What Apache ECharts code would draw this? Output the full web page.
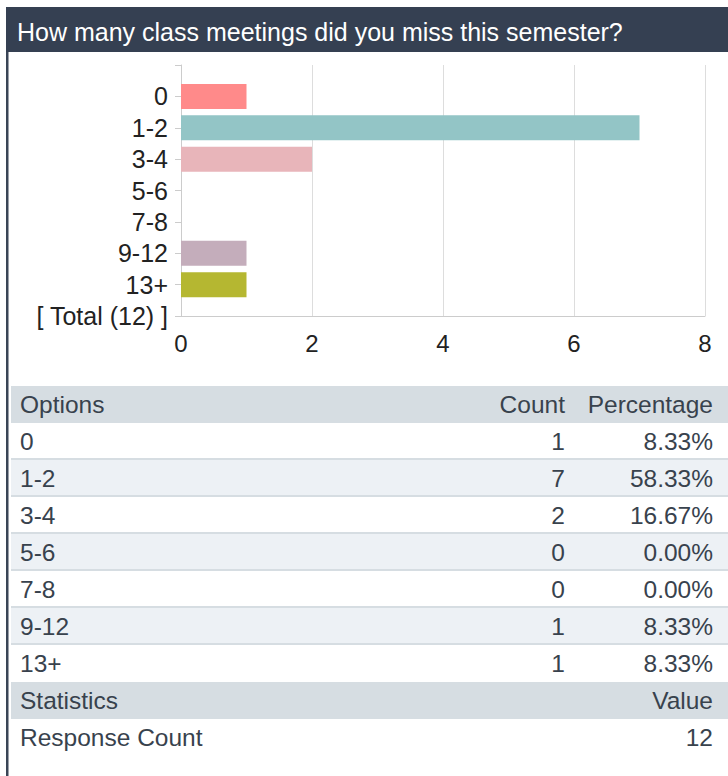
<!DOCTYPE html>
<html>
<head>
    <meta charset="utf-8">
    <script src="https://cdn.jsdelivr.net/npm/echarts@6/dist/echarts.min.js"></script>
    <style>
        *{
            margin:0;
            padding:0;
        }
        body{ background:#fff; }
    </style>
</head>
<body>
    <div id="main" style="width: 728px;height:776px;"></div>
    <script type="text/javascript">

    var title = 'How many class meetings did you miss this semester?';
    var options = ['0', '1-2', '3-4', '5-6', '7-8', '9-12', '13+'];
    var counts = [1, 7, 2, 0, 0, 1, 1];
    var percents = ['8.33%', '58.33%', '16.67%', '0.00%', '0.00%', '8.33%', '8.33%'];
    var barColors = ['#ff8a8a', '#93c5c6', '#e8b5ba', '#c9c9c9', '#c9c9c9', '#c4adbb', '#b5b731'];
    var xTicks = [0, 2, 4, 6, 8];
    var responseCount = 12;

    var font = 'Liberation Sans, Arial, sans-serif';
    var textColor = '#38424d';

    // y categories: empty slot on top, the options, then the total line
    var yCats = [''].concat(options).concat(['[ Total (' + responseCount + ') ]']);
    var barData = [null];
    for (var i = 0; i < counts.length; i++) {
        barData.push({ value: counts[i], itemStyle: { color: barColors[i] } });
    }
    barData.push(null);

    // table drawn with graphic elements
    var tableLeft = 11, tableRight = 728, headTop = 386, rowH = 37;
    var colCount = 565, colPct = 713, colText = 20;
    var g = [];

    function cell(x, y, txt, align) {
        g.push({
            type: 'text', x: x, y: y, silent: true,
            style: { text: txt, fill: textColor, font: '24.5px ' + font, align: align, verticalAlign: 'middle' }
        });
    }
    function row(y, h, fill) {
        g.push({ type: 'rect', shape: { x: tableLeft, y: y, width: tableRight - tableLeft, height: h }, style: { fill: fill }, silent: true });
    }

    // frame + header
    g.push({ type: 'rect', shape: { x: 6, y: 7, width: 2.5, height: 769 }, style: { fill: '#3a4556' }, silent: true });
    g.push({ type: 'rect', shape: { x: 6, y: 7, width: 722, height: 45 }, style: { fill: '#354052' }, silent: true });
    g.push({
        type: 'text', x: 17, y: 32, silent: true,
        style: { text: title, fill: '#fff', font: '25px ' + font, verticalAlign: 'middle' }
    });

    row(headTop, rowH, '#d6dde2');
    cell(colText, headTop + rowH / 2, 'Options', 'left');
    cell(colCount, headTop + rowH / 2, 'Count', 'right');
    cell(colPct, headTop + rowH / 2, 'Percentage', 'right');

    var y = headTop + rowH;
    for (var k = 0; k < options.length; k++) {
        row(y, rowH, k % 2 === 1 ? '#edf1f5' : '#ffffff');
        if (k < options.length - 1) row(y + rowH - 2, 2, '#d6dde2');
        cell(colText, y + rowH / 2, options[k], 'left');
        cell(colCount, y + rowH / 2, String(counts[k]), 'right');
        cell(colPct, y + rowH / 2, percents[k], 'right');
        y += rowH;
    }
    row(y, rowH, '#d6dde2');
    cell(colText, y + rowH / 2, 'Statistics', 'left');
    cell(colPct, y + rowH / 2, 'Value', 'right');
    y += rowH;
    cell(colText, y + rowH / 2, 'Response Count', 'left');
    cell(colPct, y + rowH / 2, String(responseCount), 'right');

    var myChart = echarts.init(document.getElementById('main'), null, { renderer: 'svg' });

    myChart.setOption({
        animation: false,
        grid: {
            left: 181,
            right: 23,
            top: 65,
            bottom: 460
        },
        xAxis: {
            type: 'value',
            min: xTicks[0],
            max: xTicks[xTicks.length - 1],
            interval: xTicks[1] - xTicks[0],
            axisLine: { show: true, lineStyle: { color: '#cccccc' } },
            axisTick: { show: false },
            splitLine: { show: true, lineStyle: { color: '#dddddd' } },
            axisLabel: { fontSize: 24, color: '#222', fontFamily: font, margin: 15 }
        },
        yAxis: {
            type: 'category',
            inverse: true,
            boundaryGap: false,
            data: yCats,
            axisLine: { show: true, lineStyle: { color: '#cccccc' } },
            axisTick: { show: true, length: 6, interval: 0, lineStyle: { color: '#cccccc' } },
            axisLabel: { fontSize: 25, color: '#222', fontFamily: font, margin: 13, interval: 0, hideOverlap: false }
        },
        series: [
            {
                type: 'bar',
                barWidth: 25,
                data: barData
            }
        ],
        graphic: g
    });
</script>
</body>
</html>
